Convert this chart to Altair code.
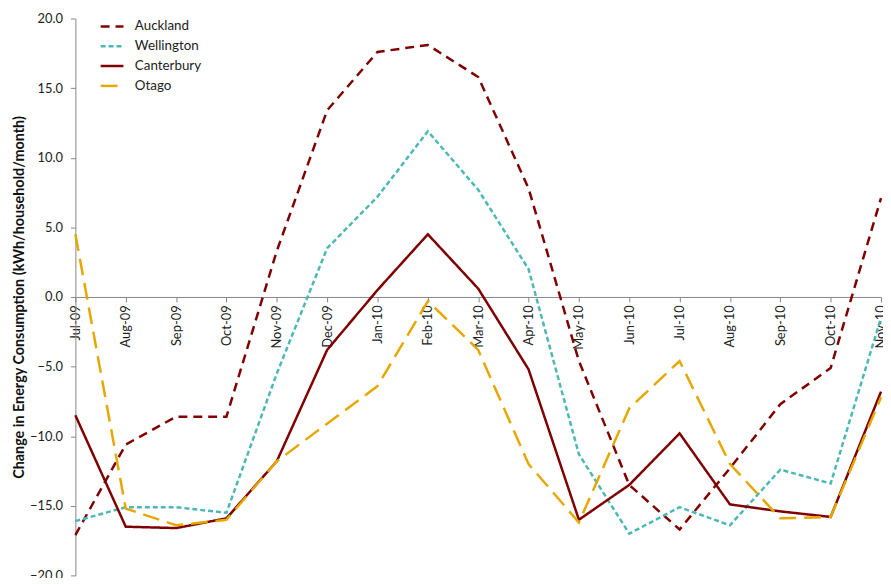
import altair as alt
import pandas as pd

months = ["Jul-09", "Aug-09", "Sep-09", "Oct-09", "Nov-09", "Dec-09", "Jan-10",
          "Feb-10", "Mar-10", "Apr-10", "May-10", "Jun-10", "Jul-10", "Aug-10",
          "Sep-10", "Oct-10", "Nov-10"]

auckland = [-17.1, -10.6, -8.6, -8.6, 3.3, 13.4, 17.6, 18.1, 15.8, 7.8, -4.6,
            -13.5, -16.7, -12.3, -7.7, -5.1, 7.1]
wellington = [-16.1, -15.1, -15.1, -15.5, -5.5, 3.5, 7.2, 11.9, 7.7, 2.0, -11.3,
              -17.0, -15.1, -16.4, -12.4, -13.4, -1.5]
canterbury = [-8.5, -16.5, -16.6, -15.9, -11.8, -3.8, 0.5, 4.5, 0.6, -5.2, -16.0,
              -13.5, -9.8, -14.9, -15.4, -15.8, -6.8]
otago = [4.5, -15.2, -16.4, -16.0, -11.8, -9.1, -6.4, -0.3, -3.8, -12.0, -16.2,
         -8.0, -4.6, -12.0, -15.9, -15.8, -7.2]

series = ["Auckland", "Wellington", "Canterbury", "Otago"]
colors = ["#7F0000", "#4BB8B5", "#7F0000", "#E6A800"]
dashes = [[9, 6], [5, 3], [1, 0], [17, 8]]
y_ticks = [-20, -15, -10, -5, 0, 5, 10, 15, 20]

rows = []
for name, vals in zip(series, [auckland, wellington, canterbury, otago]):
    for i, (m, v) in enumerate(zip(months, vals)):
        rows.append({"Month": m, "Region": name, "Value": v, "idx": i})
df = pd.DataFrame(rows)

FONT = "Lato"
AXC = "#868686"

legend = alt.Legend(
    title=None, orient="none", legendX=24, legendY=-5,
    symbolType="stroke", symbolSize=529, symbolStrokeWidth=2.5,
    rowPadding=0, labelFont=FONT, labelFontSize=13.5, labelColor="#222222",
    labelOffset=10,
)

chart = alt.Chart(df).mark_line(strokeWidth=2.5).encode(
    x=alt.X("Month:O", sort=months, scale=alt.Scale(padding=0),
            axis=alt.Axis(title=None, labelAngle=270, offset=-281,
                          domainColor=AXC, tickColor=AXC, tickSize=5,
                          labelFont=FONT, labelFontSize=13, labelColor="#222222",
                          labelPadding=3)),
    y=alt.Y("Value:Q", scale=alt.Scale(domain=[-20, 20], nice=False),
            axis=alt.Axis(title="Change in Energy Consumption (kWh/household/month)",
                          values=y_ticks, format=".1f", grid=False,
                          domainColor=AXC, tickColor=AXC, tickSize=5,
                          labelFont=FONT, labelFontSize=13, labelColor="#222222",
                          labelPadding=8, titleFont=FONT, titleFontSize=14.5,
                          titleFontWeight="bold", titleColor="#111111",
                          titlePadding=3)),
    color=alt.Color("Region:N", scale=alt.Scale(domain=series, range=colors),
                    legend=legend),
    strokeDash=alt.StrokeDash("Region:N", scale=alt.Scale(domain=series, range=dashes),
                              legend=legend),
    order="idx:Q",
).properties(
    width=813, height=562,
    autosize=alt.AutoSizeParams(type="none"),
    padding={"left": 68, "top": 8, "right": 2, "bottom": 0},
).configure_view(stroke=None)

chart.save("out.html", embed_options={"renderer": "svg", "actions": False})
